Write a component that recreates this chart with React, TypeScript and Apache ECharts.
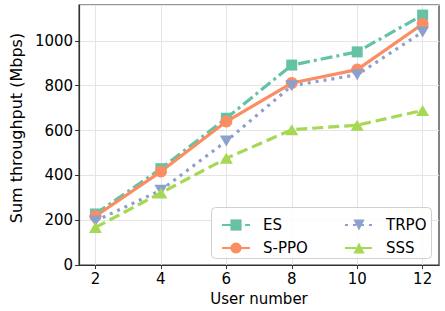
import React, { useEffect, useRef } from "react";
import * as echarts from "echarts";

const userNumbers = [2, 4, 6, 8, 10, 12];
const esValues = [228, 430, 655, 892, 951, 1115];
const sppoValues = [218, 417, 640, 812, 872, 1075];
const trpoValues = [197, 334, 553, 800, 849, 1040];
const sssValues = [168, 322, 476, 604, 624, 690];
const xTicks = [2, 4, 6, 8, 10, 12];

const FONT = "DejaVu Sans";
const downTri = "path://M0,0L12,0L6,10.4Z";
const upTri = "path://M6,0L12,10.4L0,10.4Z";

const pair = (vals: number[]) => userNumbers.map((x, i) => [x, vals[i]]);

export default function App() {
  const ref = useRef<HTMLDivElement>(null);
  useEffect(() => {
    if (!ref.current) return;
    const chart = echarts.init(ref.current, null, { renderer: "svg" });
    const mk = (name: string, vals: number[], color: string, symbol: string, size: any, type: any) => ({
      name,
      type: "line",
      data: pair(vals),
      symbol,
      symbolSize: size,
      itemStyle: { color, opacity: 1 },
      lineStyle: { color, width: 3.2, type },
      z: 2,
    });
    chart.setOption({
      animation: false,
      textStyle: { fontFamily: FONT },
      grid: {
        left: 69, right: 6, top: 5, bottom: 45,
        show: true, borderColor: "#333", borderWidth: 1.2, backgroundColor: "transparent",
      },
      xAxis: {
        type: "value", min: 1.5, max: 12.5,
        name: "User number", nameLocation: "middle", nameGap: 23,
        nameTextStyle: { fontSize: 15, color: "#000", fontFamily: FONT },
        axisLine: { show: true, lineStyle: { color: "#333", width: 1.2 } },
        axisTick: { show: true, length: 4, lineStyle: { color: "#333" }, customValues: xTicks },
        axisLabel: { fontSize: 15, color: "#000", margin: 6, fontFamily: FONT, customValues: xTicks },
        splitLine: { show: true, lineStyle: { color: "#e5e5e5", width: 1 } },
      },
      yAxis: {
        type: "value", min: 0, max: 1160, interval: 200,
        name: "Sum throughput (Mbps)", nameLocation: "middle", nameGap: 52,
        nameTextStyle: { fontSize: 16, color: "#000", fontFamily: FONT, padding: [0, 0, 0, 14] },
        axisLine: { show: true, lineStyle: { color: "#333", width: 1.2 } },
        axisTick: { show: true, length: 4, lineStyle: { color: "#333" } },
        axisLabel: {
          fontSize: 15, color: "#000", margin: 6, fontFamily: FONT, showMaxLabel: false,
          formatter: (v: number) => String(v),
        },
        splitLine: { show: true, lineStyle: { color: "#e5e5e5", width: 1 } },
      },
      graphic: [
        {
          type: "rect", z: 3, left: 211, top: 207,
          shape: { width: 220, height: 51, r: 4 },
          style: { fill: "rgba(255,255,255,0.85)", stroke: "#d0d0d0", lineWidth: 1 },
        },
      ],
      legend: [
        {
          data: ["ES", "S-PPO"], orient: "vertical", left: 216, top: 211, z: 5,
          itemWidth: 28, itemHeight: 14, itemGap: 5,
          textStyle: { fontSize: 15, color: "#000", fontFamily: FONT, lineHeight: 18, padding: [0, 0, 0, 8] },
        },
        {
          data: ["TRPO", "SSS"], orient: "vertical", left: 339, top: 211, z: 5,
          itemWidth: 28, itemHeight: 14, itemGap: 5,
          textStyle: { fontSize: 15, color: "#000", fontFamily: FONT, lineHeight: 18, padding: [0, 0, 0, 8] },
        },
      ],
      series: [
        mk("ES", esValues, "#66c2a5", "rect", 11, [12, 4, 3, 4]),
        mk("S-PPO", sppoValues, "#fc8d62", "circle", 12, "solid"),
        mk("TRPO", trpoValues, "#8da0cb", downTri, [13, 11], [3, 5]),
        mk("SSS", sssValues, "#a6d854", upTri, [13, 11], [11, 5]),
      ],
    });
    return () => chart.dispose();
  }, []);
  return <div ref={ref} style={{ width: 445, height: 311, position: "absolute", left: 0, top: 0 }} />;
}
